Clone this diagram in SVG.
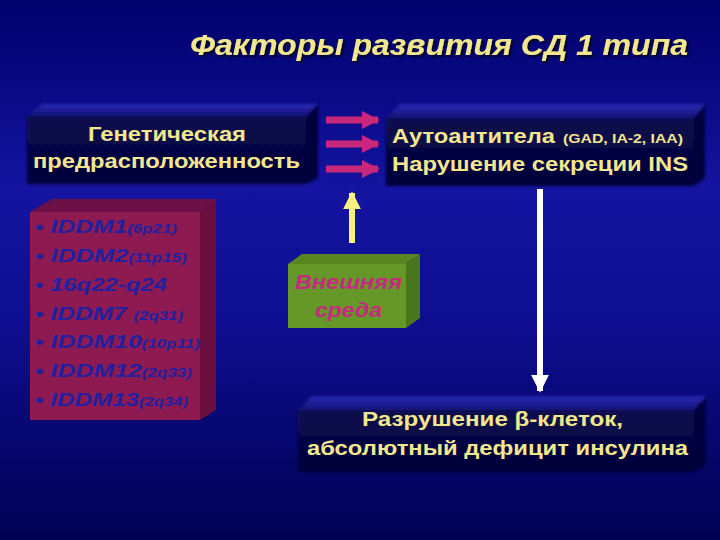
<svg xmlns="http://www.w3.org/2000/svg" width="720" height="540" viewBox="0 0 720 540">
<defs>
<linearGradient id="bg" x1="0" y1="0" x2="0" y2="1">
<stop offset="0" stop-color="#00006c"/>
<stop offset="0.35" stop-color="#1414a0"/>
<stop offset="0.6" stop-color="#0e0e90"/>
<stop offset="1" stop-color="#000052"/>
</linearGradient>
<linearGradient id="front" x1="0" y1="0" x2="0" y2="1">
<stop offset="0" stop-color="#08084e"/>
<stop offset="1" stop-color="#040438"/>
</linearGradient>
<linearGradient id="top" x1="0" y1="0" x2="0" y2="1">
<stop offset="0" stop-color="#2a2ab4"/>
<stop offset="1" stop-color="#12127a"/>
</linearGradient>
<filter id="soft" x="-5%" y="-10%" width="110%" height="120%"><feGaussianBlur stdDeviation="1.5"/></filter>
<filter id="tsh" x="-5%" y="-30%" width="110%" height="160%"><feDropShadow dx="2" dy="2" stdDeviation="1" flood-color="#000018" flood-opacity="0.9"/></filter>
<marker id="mag" viewBox="0 0 10 10" refX="9" refY="5" markerWidth="2.6" markerHeight="2.6" orient="auto" markerUnits="strokeWidth"><path d="M0,0 L10,5 L0,10 Z" fill="#c8287a"/></marker>
<marker id="yel" viewBox="0 0 10 10" refX="9" refY="5" markerWidth="3" markerHeight="3" orient="auto" markerUnits="strokeWidth"><path d="M0,0 L10,5 L0,10 Z" fill="#f6f07e"/></marker>
<marker id="wht" viewBox="0 0 10 10" refX="9" refY="5" markerWidth="3" markerHeight="4.5" orient="auto" markerUnits="strokeWidth"><path d="M0,0 L10,5 L0,10 Z" fill="#ffffff"/></marker>
</defs>
<style>
.t{font-family:"Liberation Sans",Arial,sans-serif;fill:#f2e78e;font-weight:bold;font-size:21px}
.ttl{font-size:30px;font-style:italic}
.sm{font-size:12.5px}
.g{font-family:"Liberation Sans",Arial,sans-serif;fill:#2020a0;font-weight:bold;font-style:italic;font-size:19px}
.gs{font-size:13px}
.e{font-family:"Liberation Sans",Arial,sans-serif;fill:#c42a7e;font-weight:bold;font-style:italic;font-size:21px}
</style>
<rect width="720" height="540" fill="url(#bg)"/>

<g id="title">
<text class="t ttl" x="688" y="55" text-anchor="end" textLength="498" lengthAdjust="spacingAndGlyphs" filter="url(#tsh)">Факторы развития СД 1 типа</text>
</g>

<g id="genetic">
<g filter="url(#soft)">
<polygon points="27,116 42,104 318,104 306,116" fill="url(#top)"/>
<polygon points="306,116 318,104 318,178 306,184" fill="#06063c"/>
<rect x="27" y="116" width="279" height="68" fill="url(#front)"/>
</g>
<text class="t" x="88" y="141" textLength="158" lengthAdjust="spacingAndGlyphs">Генетическая</text>
<text class="t" x="33" y="168" textLength="267" lengthAdjust="spacingAndGlyphs">предрасположенность</text>
</g>

<g id="auto">
<g filter="url(#soft)">
<polygon points="386,118 400,104 705,104 694,118" fill="url(#top)"/>
<polygon points="694,118 705,104 705,178 694,186" fill="#06063c"/>
<rect x="386" y="118" width="308" height="68" fill="url(#front)"/>
</g>
<text class="t" x="392" y="143" textLength="163" lengthAdjust="spacingAndGlyphs">Аутоантитела</text>
<text class="t sm" x="563" y="143" textLength="120" lengthAdjust="spacingAndGlyphs">(GAD, IA-2, IAA)</text>
<text class="t" x="392" y="171" textLength="296" lengthAdjust="spacingAndGlyphs">Нарушение секреции INS</text>
</g>

<g id="genes">
<polygon points="30,212 52,199 216,199 200,212" fill="#6c1046"/>
<polygon points="200,212 216,199 216,410 200,420" fill="#6a0e40"/>
<rect x="30" y="212" width="170" height="208" fill="#8e1a52"/>
<text class="g" x="35" y="233" textLength="142" lengthAdjust="spacingAndGlyphs">• IDDM1<tspan class="gs">(6p21)</tspan></text>
<text class="g" x="35" y="262" textLength="152" lengthAdjust="spacingAndGlyphs">• IDDM2<tspan class="gs">(11p15)</tspan></text>
<text class="g" x="35" y="291" textLength="132" lengthAdjust="spacingAndGlyphs">• 16q22-q24</text>
<text class="g" x="35" y="320" textLength="148" lengthAdjust="spacingAndGlyphs">• IDDM7 <tspan class="gs">(2q31)</tspan></text>
<text class="g" x="35" y="348" textLength="165" lengthAdjust="spacingAndGlyphs">• IDDM10<tspan class="gs">(10p11)</tspan></text>
<text class="g" x="35" y="377" textLength="157" lengthAdjust="spacingAndGlyphs">• IDDM12<tspan class="gs">(2q33)</tspan></text>
<text class="g" x="35" y="406" textLength="153" lengthAdjust="spacingAndGlyphs">• IDDM13<tspan class="gs">(2q34)</tspan></text>
</g>

<g id="env">
<polygon points="288,264 302,254 420,254 406,264" fill="#5a8622"/>
<polygon points="406,264 420,254 420,318 406,328" fill="#4a761c"/>
<rect x="288" y="264" width="118" height="64" fill="#659828"/>
<text class="e" x="295" y="289" textLength="107" lengthAdjust="spacingAndGlyphs">Внешняя</text>
<text class="e" x="315" y="317" textLength="67" lengthAdjust="spacingAndGlyphs">среда</text>
</g>

<g id="destruction">
<g filter="url(#soft)">
<polygon points="298,410 312,396 706,396 694,410" fill="url(#top)"/>
<polygon points="694,410 706,396 706,466 694,472" fill="#06063c"/>
<rect x="298" y="410" width="396" height="62" fill="url(#front)"/>
</g>
<text class="t" x="362" y="426" textLength="261" lengthAdjust="spacingAndGlyphs">Разрушение β-клеток,</text>
<text class="t" x="307" y="455" textLength="381" lengthAdjust="spacingAndGlyphs">абсолютный дефицит инсулина</text>
</g>

<g id="connectors">
<line x1="326" y1="120" x2="378" y2="120" stroke="#c8287a" stroke-width="7" marker-end="url(#mag)"/>
<line x1="326" y1="144" x2="378" y2="144" stroke="#c8287a" stroke-width="7" marker-end="url(#mag)"/>
<line x1="326" y1="169" x2="378" y2="169" stroke="#c8287a" stroke-width="7" marker-end="url(#mag)"/>
<line x1="352" y1="243" x2="352" y2="193" stroke="#f6f07e" stroke-width="6" marker-end="url(#yel)"/>
<line x1="540" y1="189" x2="540" y2="391" stroke="#ffffff" stroke-width="6" marker-end="url(#wht)"/>
</g>
</svg>
